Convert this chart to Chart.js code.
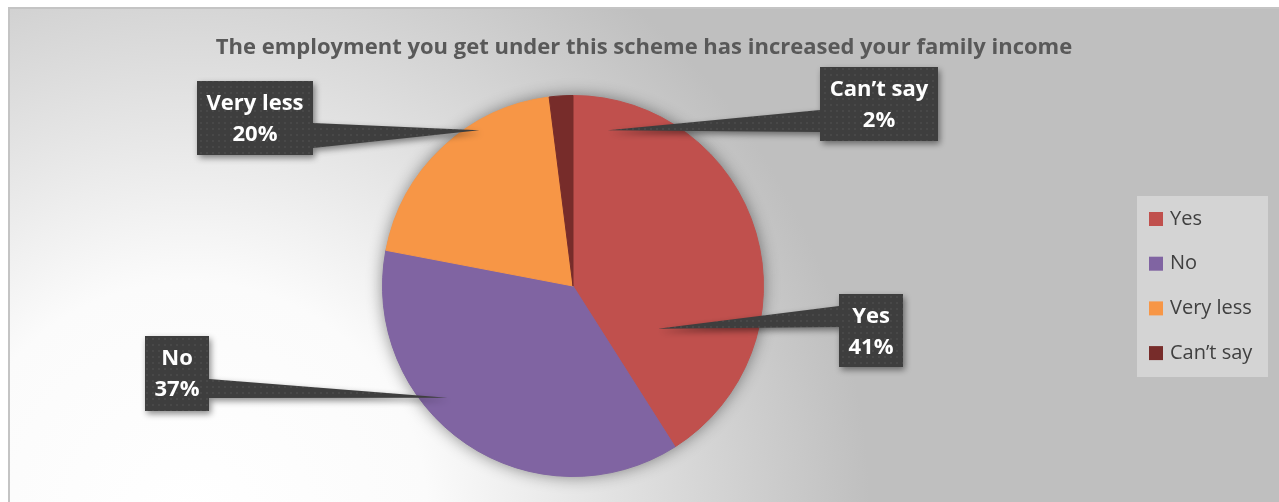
<!DOCTYPE html>
<html>
<head>
<meta charset="utf-8">
<script src="https://cdn.jsdelivr.net/npm/chart.js@4.4.1/dist/chart.umd.min.js"></script>
<style>
  html, body { margin: 0; padding: 0; background: #fff; }
  canvas { display: block; }
</style>
</head>
<body>
<canvas id="income-chart" width="1279" height="502"></canvas>
<script>
const TITLE = 'The employment you get under this scheme has increased your family income';
const categories = ['Yes', 'No', 'Very less', 'Can\u2019t say'];
const shares = [41, 37, 20, 2];
const sliceColors = ['#c0504d', '#8064a2', '#f79646', '#772c2a'];

// callout boxes in px; pointer tips are given in pie radii from the centre
const CALLOUTS = [
    { x: 839, y: 294, w: 64,  h: 73, side: 'left',  base: [306, 327], tip: [0.445, 0.225] },
    { x: 145, y: 336, w: 64,  h: 75, side: 'right', base: [379, 398], tip: [-0.660, 0.586] },
    { x: 197, y: 81,  w: 116, h: 74, side: 'right', base: [123, 148], tip: [-0.492, -0.817] },
    { x: 820, y: 67,  w: 118, h: 74, side: 'left',  base: [110, 132], tip: [0.183, -0.817] },
];

const FONT = '"Open Sans", "DejaVu Sans", sans-serif';

function dottedPattern(ctx) {
    const c = document.createElement('canvas');
    c.width = 6; c.height = 6;
    const p = c.getContext('2d');
    p.fillStyle = '#3e3e3e';
    p.fillRect(0, 0, 6, 6);
    p.fillStyle = '#484848';
    p.fillRect(2, 2, 2, 2);
    return ctx.createPattern(c, 'repeat');
}

function drawCallout(ctx, box, tipX, tipY, lines, fill) {
    const r = box.x + box.w, b = box.y + box.h;
    ctx.beginPath();
    if (box.side === 'right') {
        ctx.moveTo(box.x, box.y);
        ctx.lineTo(r, box.y);
        ctx.lineTo(r, box.base[0]);
        ctx.lineTo(tipX, tipY);
        ctx.lineTo(r, box.base[1]);
        ctx.lineTo(r, b);
        ctx.lineTo(box.x, b);
    } else {
        ctx.moveTo(box.x, box.y);
        ctx.lineTo(r, box.y);
        ctx.lineTo(r, b);
        ctx.lineTo(box.x, b);
        ctx.lineTo(box.x, box.base[1]);
        ctx.lineTo(tipX, tipY);
        ctx.lineTo(box.x, box.base[0]);
    }
    ctx.closePath();

    ctx.save();
    ctx.shadowColor = 'rgba(0,0,0,0.45)';
    ctx.shadowBlur = 6;
    ctx.shadowOffsetX = 2;
    ctx.shadowOffsetY = 3;
    ctx.fillStyle = fill;
    ctx.fill();
    ctx.restore();

    ctx.fillStyle = '#ffffff';
    ctx.font = 'bold 22px ' + FONT;
    ctx.textAlign = 'center';
    ctx.textBaseline = 'middle';
    const cx = box.x + box.w / 2;
    ctx.fillText(lines[0], cx, box.y + 23);
    ctx.fillText(lines[1], cx, box.y + 54);
}

const chartDecor = {
    id: 'chartDecor',
    beforeDraw(chart) {
        const { ctx, width, height } = chart;
        ctx.save();
        ctx.fillStyle = '#ffffff';
        ctx.fillRect(0, 0, width, height);
        const g = ctx.createRadialGradient(190, 520, 0, 190, 520, 680);
        g.addColorStop(0, '#ffffff');
        g.addColorStop(0.35, '#fbfbfb');
        g.addColorStop(1, '#bfbfbf');
        ctx.fillStyle = g;
        ctx.fillRect(9, 8, width - 9, height - 8);
        ctx.strokeStyle = '#c4c4c4';
        ctx.lineWidth = 2;
        ctx.strokeRect(9, 8, width + 10, height + 10);
        ctx.restore();
    },
    beforeDatasetsDraw(chart) {
        // soft shadow under the whole pie
        const arc = chart.getDatasetMeta(0).data[0];
        const ctx = chart.ctx;
        ctx.save();
        ctx.shadowColor = 'rgba(0,0,0,0.45)';
        ctx.shadowBlur = 16;
        ctx.fillStyle = '#999999';
        ctx.beginPath();
        ctx.arc(arc.x, arc.y, arc.outerRadius, 0, Math.PI * 2);
        ctx.fill();
        ctx.restore();
    },
    afterDraw(chart) {
        const ctx = chart.ctx;
        const arcs = chart.getDatasetMeta(0).data;
        const { x: cx, y: cy, outerRadius: rad } = arcs[0];

        ctx.save();
        // title
        ctx.fillStyle = '#595959';
        ctx.font = 'bold 22px ' + FONT;
        ctx.textAlign = 'center';
        ctx.textBaseline = 'middle';
        ctx.fillText(TITLE, 644, 48);

        // data callouts
        const fill = dottedPattern(ctx);
        CALLOUTS.forEach((box, i) => {
            drawCallout(ctx, box, cx + box.tip[0] * rad, cy + box.tip[1] * rad,
                [categories[i], shares[i] + '%'], fill);
        });

        // legend
        ctx.fillStyle = '#d4d4d4';
        ctx.fillRect(1137, 196, 131, 181);
        ctx.font = '20px ' + FONT;
        ctx.textAlign = 'left';
        categories.forEach((name, i) => {
            const y = 219 + i * 44.7;
            ctx.fillStyle = sliceColors[i];
            ctx.fillRect(1149, y - 7, 14, 14);
            ctx.fillStyle = '#404040';
            ctx.fillText(name, 1170, y);
        });
        ctx.restore();
    }
};

new Chart(document.getElementById('income-chart'), {
    type: 'pie',
    data: {
        labels: categories,
        datasets: [{
            data: shares,
            backgroundColor: sliceColors,
            borderColor: sliceColors,
            borderWidth: 1,
        }],
    },
    options: {
        responsive: false,
        animation: false,
        devicePixelRatio: 1,
        layout: { padding: { top: 95, bottom: 25, left: 382, right: 515 } },
        plugins: {
            legend: { display: false },
            tooltip: { enabled: false },
        },
    },
    plugins: [chartDecor],
});
</script>
</body>
</html>
